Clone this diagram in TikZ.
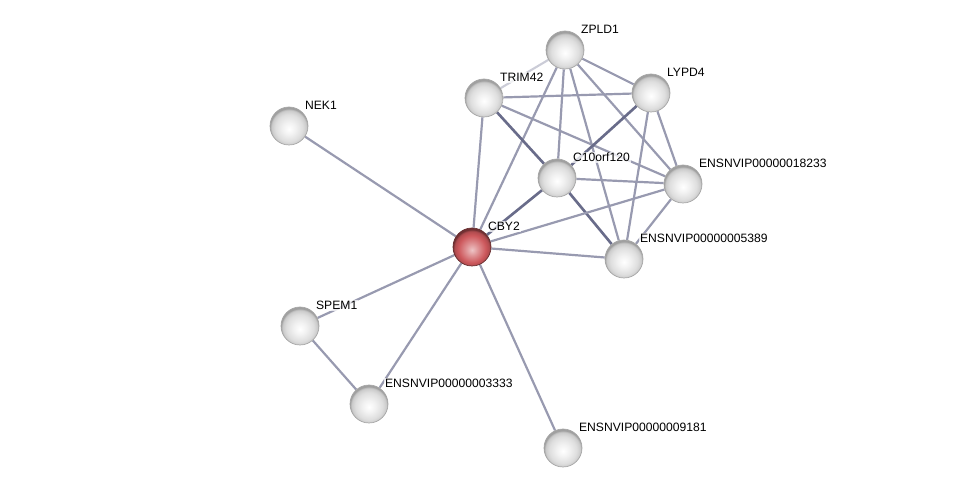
\documentclass[tikz,border=0pt]{standalone}
\usepackage{fontspec}
\setmainfont{Liberation Sans}
\usetikzlibrary{positioning,shadings}

\definecolor{edgegray}{RGB}{152,154,176}
\definecolor{edgedark}{RGB}{105,108,138}
\definecolor{protred}{RGB}{205,88,92}

% sphere look of the proteins
\pgfdeclareradialshading{greysphere}{\pgfpoint{0bp}{-4bp}}{%
  color(0bp)=(white); color(8bp)=(gray!10); color(18bp)=(gray!26);
  color(23bp)=(gray!42); color(25bp)=(gray!75); color(50bp)=(gray!75)}
\pgfdeclareradialshading{redsphere}{\pgfpoint{0bp}{-4bp}}{%
  color(0bp)=(protred!35!white); color(8bp)=(protred!65!white); color(18bp)=(protred);
  color(23bp)=(protred!85!black); color(25bp)=(protred!55!black); color(50bp)=(protred!55!black)}

\pgfdeclarelayer{bg}
\pgfsetlayers{bg,main}

\begin{document}
\begin{tikzpicture}[
    x=0.02cm, y=-0.02cm,
    protein/.style={circle, minimum size=0.76cm, inner sep=0pt, shading=greysphere,
                    draw=gray!70, line width=0.4pt},
    query/.style={protein, shading=redsphere, draw=protred!50!black},
    lbl/.style={font=\fontsize{6.9}{8}\selectfont, inner sep=0.6pt, label distance=0.03cm,
                fill=white, fill opacity=0.75, text opacity=1},
    link/.style={draw=edgegray, line width=1.25pt},
    strong/.style={draw=edgedark, line width=1.5pt},
    faint/.style={draw=edgegray!50, line width=1.2pt}
]
\useasboundingbox (0,0) rectangle (975,493);

% Proteins
\node[query]   (cby2)   at (472,247) [label={[lbl]north east:CBY2}] {};
\node[protein] (zpld1)  at (565,50)  [label={[lbl]north east:ZPLD1}] {};
\node[protein] (trim42) at (484,98)  [label={[lbl]north east:TRIM42}] {};
\node[protein] (lypd4)  at (651,93)  [label={[lbl]north east:LYPD4}] {};
\node[protein] (nek1)   at (289,126) [label={[lbl]north east:NEK1}] {};
\node[protein] (c10)    at (557,178) [label={[lbl]north east:C10orf120}] {};
\node[protein] (e18233) at (683,184) [label={[lbl]north east:ENSNVIP00000018233}] {};
\node[protein] (e5389)  at (624,259) [label={[lbl]north east:ENSNVIP00000005389}] {};
\node[protein] (spem1)  at (300,326) [label={[lbl]north east:SPEM1}] {};
\node[protein] (e3333)  at (369,404) [label={[lbl]north east:ENSNVIP00000003333}] {};
\node[protein] (e9181)  at (563,448) [label={[lbl]north east:ENSNVIP00000009181}] {};

% Interactions
\begin{pgfonlayer}{bg}
\draw[faint]  (zpld1) -- (trim42);
\draw[link]   (zpld1) -- (lypd4);
\draw[link]   (zpld1) -- (cby2);
\draw[link]   (zpld1) -- (c10);
\draw[link]   (zpld1) -- (e5389);
\draw[link]   (zpld1) -- (e18233);
\draw[link]   (trim42) -- (lypd4);
\draw[link]   (trim42) -- (cby2);
\draw[strong] (trim42) -- (c10);
\draw[link]   (trim42) -- (e18233);
\draw[strong] (lypd4) -- (c10);
\draw[link]   (lypd4) -- (e5389);
\draw[link]   (lypd4) -- (e18233);
\draw[link]   (c10) -- (e18233);
\draw[strong] (c10) -- (e5389);
\draw[strong] (cby2) -- (c10);
\draw[link]   (cby2) -- (e18233);
\draw[link]   (cby2) -- (e5389);
\draw[link]   (e18233) -- (e5389);
\draw[link]   (cby2) -- (nek1);
\draw[link]   (cby2) -- (spem1);
\draw[link]   (cby2) -- (e3333);
\draw[link]   (cby2) -- (e9181);
\draw[link]   (spem1) -- (e3333);
\end{pgfonlayer}

\end{tikzpicture}
\end{document}
